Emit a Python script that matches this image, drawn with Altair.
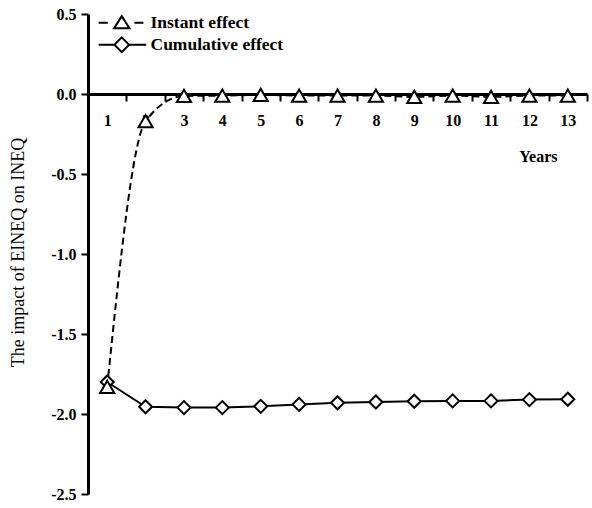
import altair as alt
import pandas as pd

years = list(range(1, 14))
instant = [-1.83, -0.17, -0.012, -0.01, -0.005, -0.01, -0.01, -0.01, -0.018, -0.01, -0.018, -0.01, -0.01]
cumulative = [-1.80, -1.955, -1.96, -1.96, -1.952, -1.94, -1.93, -1.925, -1.92, -1.918, -1.918, -1.91, -1.908]
y_ticks = [0.5, 0.0, -0.5, -1.0, -1.5, -2.0, -2.5]
INST = "Instant effect"
CUM = "Cumulative effect"

rows = []
for yr, v in zip(years, cumulative):
    rows.append({"year": yr, "value": v, "series": CUM})
for yr, v in zip(years, instant):
    rows.append({"year": yr, "value": v, "series": INST})
df = pd.DataFrame(rows)

FONT = "Liberation Serif"

x_enc = alt.X(
    "year:O",
    scale=alt.Scale(type="band", paddingInner=0, paddingOuter=0),
    axis=alt.Axis(
        title="Years",
        titleFont=FONT, titleFontSize=16, titleFontWeight="bold", titleColor="black",
        titleX=469, titleY=67, titleAlign="right", titleBaseline="alphabetic", titleAngle=0,
        labelFont=FONT, labelFontSize=16, labelFontWeight="bold", labelColor="black",
        labelAngle=0, labelPadding=11,
        tickBand="extent", tickSize=7, tickWidth=2, tickColor="black",
        domainColor="black", domainWidth=3,
        offset=-400, grid=False,
    ),
)
y_enc = alt.Y(
    "value:Q",
    scale=alt.Scale(domain=[-2.5, 0.5], nice=False, zero=False),
    axis=alt.Axis(
        values=y_ticks,
        labelExpr="(datum.value < 0 ? '-' : '') + format(abs(datum.value), '.1f')",
        title="The impact of EINEQ on INEQ",
        titleFont=FONT, titleFontSize=18, titleFontWeight="normal", titleColor="black",
        titleX=-70, titleY=238, titleAlign="center", titleBaseline="middle", titleAngle=-90,
        labelFont=FONT, labelFontSize=16, labelFontWeight="bold", labelColor="black",
        labelPadding=5,
        tickSize=7, tickWidth=2, tickColor="black",
        domainColor="black", domainWidth=3, grid=False,
    ),
)

path_inst = "M-3.3,0H-2.0M1.8,0H3.1M0,-0.95L1.1,0.8L-1.1,0.8Z"
path_cum = "M-3.3,0H-1.05M1.05,0H3.5M0,-1.05L1.05,0L0,1.05L-1.05,0Z"


def legend_for(path, ly):
    return alt.Legend(
        title=None, orient="none", legendX=25, legendY=ly, padding=0,
        symbolType=path, symbolSize=196, symbolFillColor="white",
        symbolStrokeColor="black", symbolStrokeWidth=2, symbolOpacity=1,
        labelFont=FONT, labelFontSize=17.5, labelFontWeight="bold", labelColor="black",
        labelOffset=20,
    )


base = alt.Chart(df)
inst_data = base.transform_filter(f"datum.series == '{INST}'")
cum_data = base.transform_filter(f"datum.series == '{CUM}'")

cum_line = cum_data.mark_line(strokeWidth=2).encode(
    x=x_enc, y=y_enc,
    color=alt.Color("series:N", scale=alt.Scale(domain=[CUM], range=["black"]),
                    legend=legend_for(path_cum, 22)),
)

inst_line = inst_data.mark_line(
    color="black", strokeWidth=2, strokeDash=[7, 4], interpolate="monotone"
).encode(x=x_enc, y=y_enc)

inst_legend = base.transform_filter("datum.series == 'none'").mark_rule(strokeWidth=2).encode(
    color=alt.Color("series:N", scale=alt.Scale(domain=[INST], range=["black"]),
                    legend=legend_for(path_inst, 0)),
)

cum_pts = cum_data.mark_point(
    shape="diamond", filled=True, fill="white", stroke="black", strokeWidth=2, size=170, opacity=1
).encode(x=x_enc, y=y_enc)

inst_pts = inst_data.mark_point(
    shape="triangle-up", filled=True, fill="white", stroke="black", strokeWidth=2, size=200, opacity=1
).encode(x=x_enc, y=y_enc)

chart = alt.layer(cum_line, inst_line, cum_pts, inst_pts, inst_legend).resolve_scale(
    color="independent"
).properties(
    width=499, height=480,
    autosize=alt.AutoSizeParams(type="none"),
    padding={"left": 88, "top": 14, "right": 5, "bottom": 14},
    background="white",
).configure_view(stroke=None)

chart.save("out.html", embed_options={"renderer": "svg", "actions": False})
